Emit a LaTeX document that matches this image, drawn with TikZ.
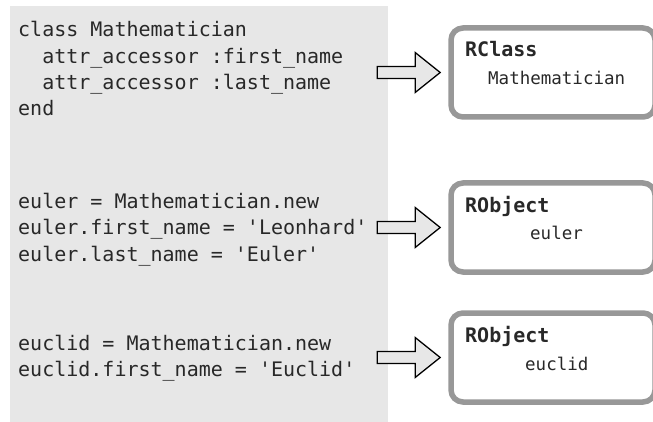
\documentclass[tikz,border=0pt]{standalone}
\usepackage{fontspec}
\setmonofont{DejaVu Sans Mono}
\usetikzlibrary{calc}
\definecolor{panelgray}{RGB}{231,231,231}
\definecolor{framegray}{RGB}{152,152,152}
\definecolor{inkgray}{RGB}{40,40,40}

\begin{document}
\begin{tikzpicture}[x=1pt, y=-1pt,
  code/.style={anchor=base west, inner sep=0pt, align=left, text=inkgray,
               font=\ttfamily\fontsize{20}{26.2}\selectfont},
  objbox/.style={draw=framegray, line width=5.5pt, rounded corners=12pt, fill=white,
                 minimum width=204pt, minimum height=89pt, inner sep=0pt},
  kind/.style={anchor=base west, inner sep=0pt, text=inkgray,
               font=\ttfamily\bfseries\fontsize{20}{24}\selectfont},
  inst/.style={anchor=base west, inner sep=0pt, text=inkgray,
               font=\ttfamily\fontsize{17.5}{21}\selectfont},
  fatarrow/.style={draw=black, line width=1.3pt, fill=panelgray, line join=miter}
]
  \useasboundingbox (0,0) rectangle (653,422);
  \node[fill=panelgray, inner sep=0pt, minimum width=378pt, minimum height=416pt] (panel) at (199,214) {};
  % ruby source (base = last line)
  \node[code] (defclass) at (18,115.5) {class Mathematician\\\ \ attr\_accessor :first\_name\\\ \ attr\_accessor :last\_name\\end};
  \node[code] (defeuler) at (18,261) {euler = Mathematician.new\\euler.first\_name = 'Leonhard'\\euler.last\_name = 'Euler'};
  \node[code] (defeuclid) at (18,376.5) {euclid = Mathematician.new\\euclid.first\_name = 'Euclid'};
  % interpreter structures
  \node[objbox] (rclass) at (553,72.5) {};
  \node[kind] (rclass-kind) at (465,57) {RClass};
  \node[inst] (rclass-name) at (488,85) {Mathematician};
  \node[objbox] (euler) at (553,227.5) {};
  \node[kind] (euler-kind) at (465,212) {RObject};
  \node[inst] (euler-name) at (530,240) {euler};
  \node[objbox] (euclid) at (553,357.5) {};
  \node[kind] (euclid-kind) at (465,342) {RObject};
  \node[inst] (euclid-name) at (525,370) {euclid};
  % block arrows
  \draw[fatarrow] ($(panel.east |- rclass.west)+(-11,-6)$) -- ++(38,0) -- ++(0,-14)
    -- ++(25,20) -- ++(-25,20) -- ++(0,-14) -- ++(-38,0) -- cycle;
  \draw[fatarrow] ($(panel.east |- euler.west)+(-11,-6)$) -- ++(38,0) -- ++(0,-14)
    -- ++(25,20) -- ++(-25,20) -- ++(0,-14) -- ++(-38,0) -- cycle;
  \draw[fatarrow] ($(panel.east |- euclid.west)+(-11,-6)$) -- ++(38,0) -- ++(0,-14)
    -- ++(25,20) -- ++(-25,20) -- ++(0,-14) -- ++(-38,0) -- cycle;
\end{tikzpicture}
\end{document}
